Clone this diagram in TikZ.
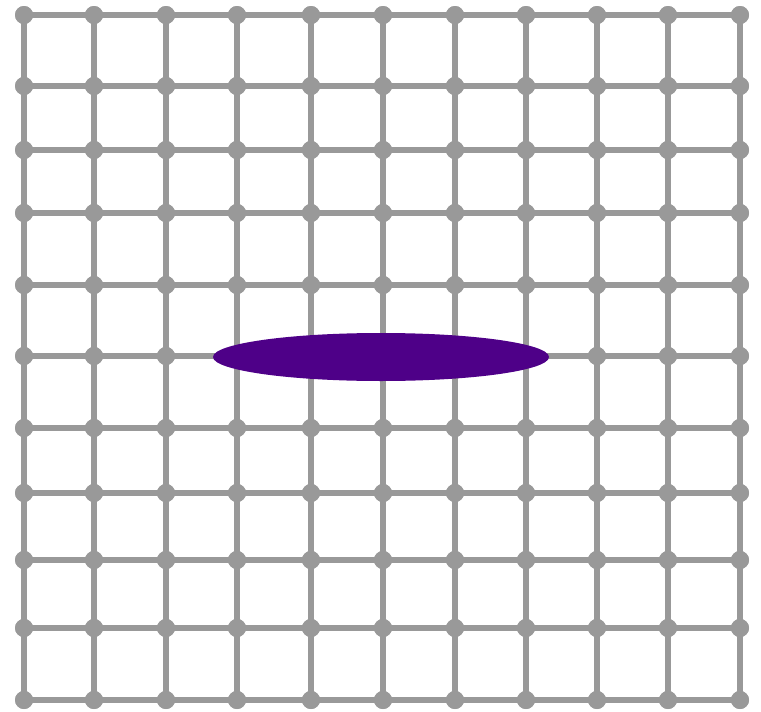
\documentclass[tikz,border=0pt]{standalone}
\usetikzlibrary{shapes.geometric}
\definecolor{gridgray}{HTML}{999999}
\definecolor{blobpurple}{HTML}{4E0088}
\begin{document}
\begin{tikzpicture}[x=1pt,y=-1pt,
  gnode/.style={circle,fill=gridgray,inner sep=0pt,minimum size=18pt},
  gedge/.style={draw=gridgray,line width=5.5pt},
  blob/.style={ellipse,fill=blobpurple,inner sep=0pt,minimum width=336pt,minimum height=48pt}]
\useasboundingbox (0,0) rectangle (761,712);
\def\xs{{24,94,166,237,311,383,455,526,597,668,740}}
\def\ys{{15,86,150,213,285,356,428,493,560,628,700}}
\foreach \i in {0,...,10}{
  \foreach \j in {0,...,10}{
    \pgfmathsetmacro{\px}{\xs[\i]}
    \pgfmathsetmacro{\py}{\ys[\j]}
    \node[gnode] (n-\i-\j) at (\px,\py) {};
  }
}
\begin{scope}[on background layer/.style={}]
\end{scope}
\foreach \i in {0,...,10}{
  \foreach \j [evaluate=\j as \jn using int(\j+1)] in {0,...,9}{
    \draw[gedge] (n-\i-\j.center) -- (n-\i-\jn.center);
    \draw[gedge] (n-\j-\i.center) -- (n-\jn-\i.center);
  }
}
\foreach \i in {0,...,10}{
  \foreach \j in {0,...,10}{
    \fill[gridgray] (n-\i-\j) circle (9pt);
  }
}
\node[blob] (blob) at (381,357) {};
\end{tikzpicture}
\end{document}
